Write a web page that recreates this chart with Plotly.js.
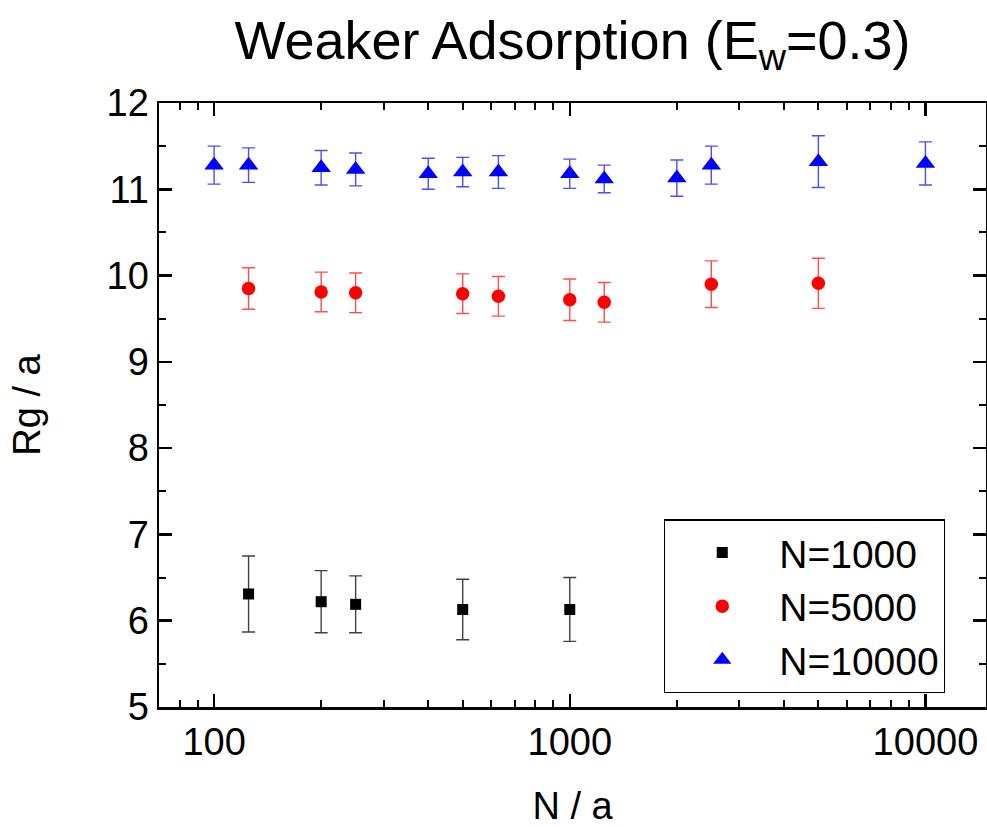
<!DOCTYPE html>
<html>
<head>
<meta charset="utf-8">
<script src="https://cdn.plot.ly/plotly-3.0.1.min.js"></script>
<style>html,body{margin:0;padding:0;background:#fff;}#chart{width:987px;height:827px;}</style>
</head>
<body>
<div id="chart"></div>
<script>
// ---- data ----
const x1000 = [125, 200, 250, 500, 1000];
const y1000 = [6.31, 6.22, 6.19, 6.13, 6.13];
const e1000 = [0.44, 0.36, 0.33, 0.35, 0.37];

const x5000 = [125, 200, 250, 500, 630, 1000, 1250, 2500, 5000];
const y5000 = [9.85, 9.81, 9.80, 9.79, 9.76, 9.72, 9.69, 9.90, 9.91];
const e5000 = [0.24, 0.23, 0.23, 0.23, 0.23, 0.24, 0.23, 0.27, 0.29];

const x10000 = [100, 125, 200, 250, 400, 500, 630, 1000, 1250, 2000, 2500, 5000, 10000];
const y10000 = [11.28, 11.28, 11.25, 11.23, 11.18, 11.20, 11.20, 11.18, 11.12, 11.13, 11.28, 11.32, 11.30];
const e10000 = [0.22, 0.20, 0.20, 0.19, 0.18, 0.17, 0.19, 0.17, 0.16, 0.21, 0.22, 0.30, 0.25];

const seriesNames = ['N=1000', 'N=5000', 'N=10000'];
const xTickVals = [100, 1000, 10000];
const xTickText = ['100', '1000', '10000'];
const xMinorVals = [80, 90, 200, 300, 400, 500, 600, 700, 800, 900,
                    2000, 3000, 4000, 5000, 6000, 7000, 8000, 9000];

const FONT = 'Arial, "Liberation Sans", sans-serif';

function trace(x, y, e, name, color, errColor, symbol, size) {
  return {
    type: 'scatter', mode: 'markers', x: x, y: y, name: name,
    marker: {color: color, symbol: symbol, size: size, line: {width: 0}},
    error_y: {type: 'data', array: e, visible: true, color: errColor, thickness: 1.4, width: 6.5}
  };
}

const data = [
  trace(x1000, y1000, e1000, seriesNames[0], '#000000', 'rgba(0,0,0,0.75)', 'square', 11),
  trace(x5000, y5000, e5000, seriesNames[1], '#ff0000', 'rgba(255,0,0,0.7)', 'circle', 13.5),
  trace(x10000, y10000, e10000, seriesNames[2], '#0000ff', 'rgba(0,0,255,0.7)', 'triangle-up', 17)
];

const layout = {
  width: 987, height: 827,
  paper_bgcolor: '#ffffff', plot_bgcolor: '#ffffff',
  margin: {l: 159, r: 1, t: 103, b: 120, pad: 0},
  font: {family: FONT, color: '#000', size: 38},
  title: {
    text: 'Weaker Adsorption (E<sub>w</sub>=0.3)',
    font: {family: FONT, size: 54, color: '#000'},
    x: 0.5, xanchor: 'center', xref: 'paper',
    y: 0.952, yanchor: 'middle', yref: 'container'
  },
  showlegend: true,
  legend: {
    x: 0.6106, y: 0.3108, xanchor: 'left', yanchor: 'top',
    bgcolor: '#ffffff', bordercolor: '#000', borderwidth: 1.3,
    font: {family: FONT, size: 39, color: '#000'},
    itemwidth: 104
  },
  xaxis: {
    type: 'log',
    range: [Math.log10(70), Math.log10(14800)],
    tickvals: xTickVals, ticktext: xTickText,
    ticks: 'inside', ticklen: 13, tickwidth: 2.5, tickcolor: '#000',
    showline: true, linewidth: 2.5, linecolor: '#000', mirror: 'ticks',
    showgrid: false, zeroline: false,
    tickfont: {family: FONT, size: 38, color: '#000'},
    minor: {tickvals: xMinorVals, ticks: 'inside', ticklen: 7, tickwidth: 2, tickcolor: '#000', showgrid: false},
    title: {text: 'N / a', font: {family: FONT, size: 38, color: '#000'}, standoff: 33}
  },
  yaxis: {
    range: [5, 12], dtick: 1, tick0: 0,
    ticks: 'inside', ticklen: 13, tickwidth: 2.5, tickcolor: '#000',
    showline: true, linewidth: 2.5, linecolor: '#000', mirror: 'ticks',
    showgrid: false, zeroline: false,
    tickfont: {family: FONT, size: 38, color: '#000'},
    minor: {dtick: 0.5, ticks: 'inside', ticklen: 7, tickwidth: 2, tickcolor: '#000', showgrid: false},
    title: {text: 'Rg / a', font: {family: FONT, size: 38, color: '#000'}, standoff: 55}
  }
};

Plotly.newPlot('chart', data, layout, {displayModeBar: false, staticPlot: true});
</script>
</body>
</html>
